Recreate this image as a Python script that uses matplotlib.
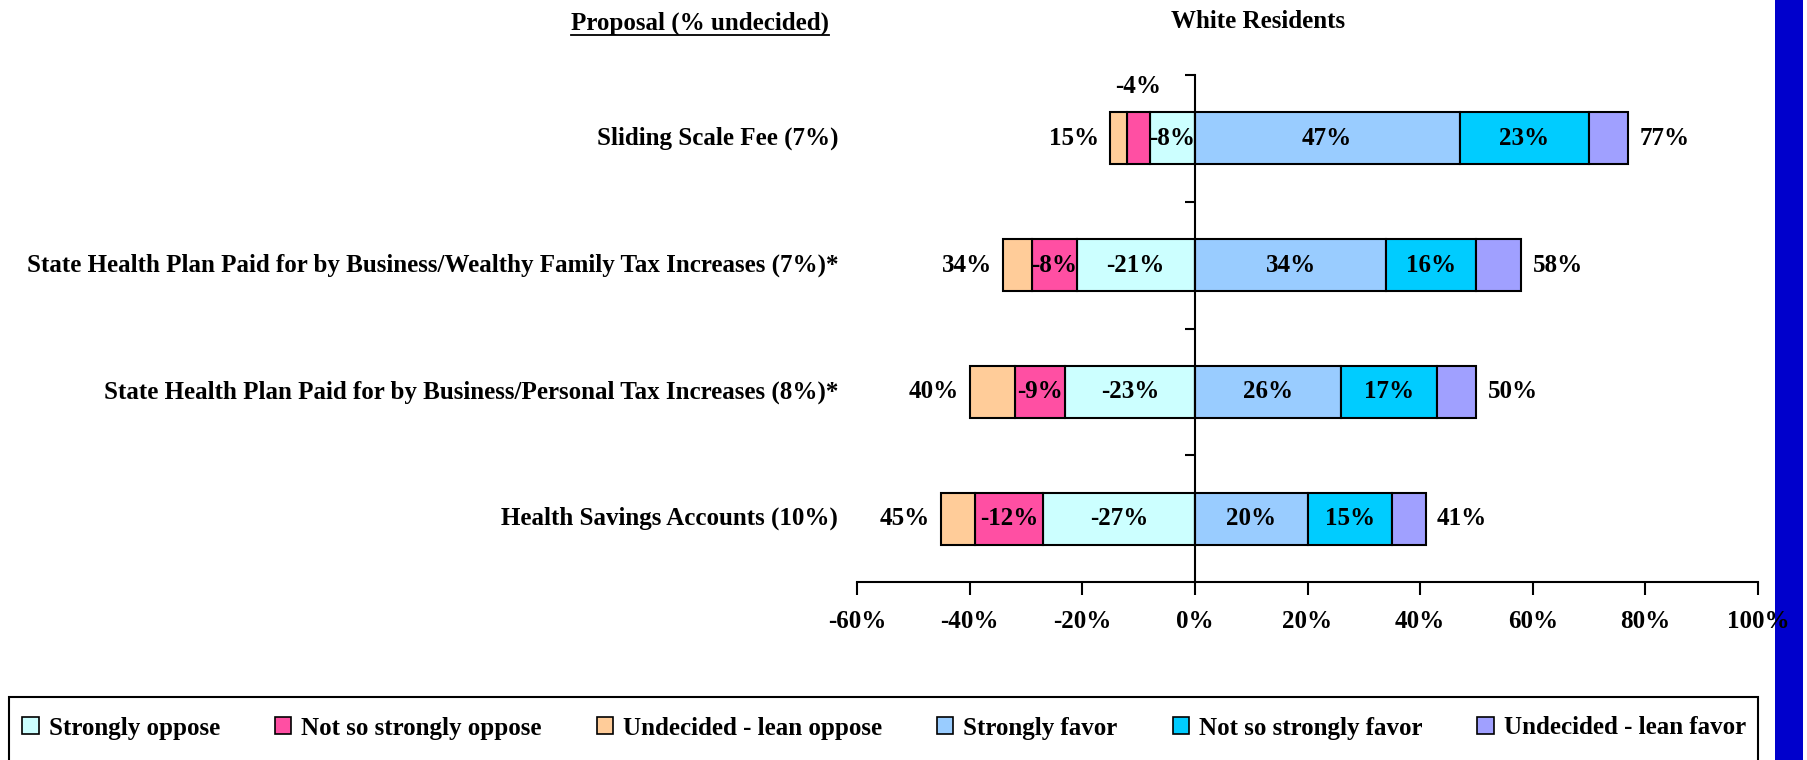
import matplotlib
matplotlib.use("Agg")
import matplotlib.pyplot as plt
from matplotlib.patches import Patch, Rectangle
import matplotlib.transforms as mtransforms

plt.rcParams['font.family'] = ['Liberation Serif', 'DejaVu Serif']
plt.rcParams['font.weight'] = 'bold'

categories = ["Sliding Scale Fee (7%)",
              "State Health Plan Paid for by Business/Wealthy Family Tax Increases (7%)*",
              "State Health Plan Paid for by Business/Personal Tax Increases (8%)*",
              "Health Savings Accounts (10%)"]
strongly_oppose = [8, 21, 23, 27]
not_so_oppose = [4, 8, 9, 12]
lean_oppose = [3, 5, 8, 6]
strongly_favor = [47, 34, 26, 20]
not_so_favor = [23, 16, 17, 15]
lean_favor = [7, 8, 7, 6]
total_oppose = [15, 34, 40, 45]
total_favor = [77, 58, 50, 41]
xticks = [-60, -40, -20, 0, 20, 40, 60, 80, 100]

series_names = ["Strongly oppose", "Not so strongly oppose", "Undecided - lean oppose",
                "Strongly favor", "Not so strongly favor", "Undecided - lean favor"]
colors = ["#CCFFFF", "#FF4FA3", "#FFCC99", "#99CCFF", "#00CCFF", "#A0A0FF"]

FS = 18
W, H = 1807, 760
fig = plt.figure(figsize=(W / 100, H / 100), dpi=100)
ax = fig.add_axes([857 / W, 1 - 582 / H, (1758 - 857) / W, (582 - 75) / H])

ypos = [3, 2, 1, 0]
bh = 0.41
ekw = dict(edgecolor="black", linewidth=1.5, height=bh)

# oppose side, stacking leftwards
left = [0] * 4
for vals, c in zip([strongly_oppose, not_so_oppose, lean_oppose], colors[:3]):
    lefts = [l - v for l, v in zip(left, vals)]
    ax.barh(ypos, vals, left=lefts, color=c, **ekw)
    left = lefts
# favor side
left = [0] * 4
for vals, c in zip([strongly_favor, not_so_favor, lean_favor], colors[3:]):
    ax.barh(ypos, vals, left=left, color=c, **ekw)
    left = [l + v for l, v in zip(left, vals)]

# segment labels
for i, y in enumerate(ypos):
    so = strongly_oppose[i]
    ns = not_so_oppose[i]
    ax.text(-so / 2, y, f"-{so}%", ha="center", va="center", fontsize=FS)
    if ns >= 6:
        ax.text(-so - ns / 2, y, f"-{ns}%", ha="center", va="center", fontsize=FS)
    else:
        ax.text(-so - ns / 2, y + 0.41, f"-{ns}%", ha="center", va="center", fontsize=FS)
    sf = strongly_favor[i]
    nf = not_so_favor[i]
    ax.text(sf / 2, y, f"{sf}%", ha="center", va="center", fontsize=FS)
    ax.text(sf + nf / 2, y, f"{nf}%", ha="center", va="center", fontsize=FS)
    ax.annotate(f"{total_oppose[i]}%", (-total_oppose[i], y), xytext=(-8, 0),
                textcoords="offset points", ha="right", va="center", fontsize=FS)
    ax.annotate(f"{total_favor[i]}%", (total_favor[i], y), xytext=(8, 0),
                textcoords="offset points", ha="left", va="center", fontsize=FS)

# category labels to the left of the plot area
trans = mtransforms.blended_transform_factory(ax.transAxes, ax.transData)
for cat, y in zip(categories, ypos):
    ax.text(-0.021, y, cat, transform=trans, ha="right", va="center", fontsize=FS)

ax.set_xlim(-60, 100)
ax.set_ylim(-0.5, 3.5)
ax.set_xticks(xticks)
ax.set_xticklabels([f"{t}%" for t in xticks], fontsize=FS)
ax.set_yticks([0.5, 1.5, 2.5, 3.5])
ax.set_yticklabels([])
ax.tick_params(axis="x", direction="out", length=9, width=1.5, pad=11)
ax.tick_params(axis="y", direction="out", length=7, width=1.5)
ax.spines["left"].set_position(("data", 0))
for s in ["top", "right"]:
    ax.spines[s].set_visible(False)
for s in ["left", "bottom"]:
    ax.spines[s].set_linewidth(1.5)

ttl = fig.text(700 / W, 1 - 23 / H, "Proposal (% undecided)", ha="center", va="center",
               fontsize=FS)
fig.text(1258 / W, 1 - 21 / H, "White Residents", ha="center", va="center", fontsize=FS)

# underline under the left heading
fig.canvas.draw()
bb = ttl.get_window_extent().transformed(fig.transFigure.inverted())
fig.add_artist(plt.Line2D([bb.x0, bb.x1], [1 - 35 / H, 1 - 35 / H], color="black", linewidth=1.3))

# legend box
fig.add_artist(Rectangle((9 / W, -0.01), (1758 - 9) / W, (760 - 697) / H + 0.01,
                         transform=fig.transFigure, facecolor="none", edgecolor="black", linewidth=1.5))
handles = [Patch(facecolor=c, edgecolor="black", linewidth=1.2) for c in colors]
fig.legend(handles, series_names, loc="center", bbox_to_anchor=(884 / W, 1 - 728 / H),
           ncol=6, frameon=False, fontsize=FS, handlelength=0.65, handleheight=0.65,
           handletextpad=0.4, columnspacing=2.2)

# blue strip at the right edge
fig.add_artist(Rectangle((1775 / W, 0), 28 / W, 1, transform=fig.transFigure,
                         facecolor="#0000CC", edgecolor="none", zorder=-1))

fig.savefig("out.png", dpi=100)
